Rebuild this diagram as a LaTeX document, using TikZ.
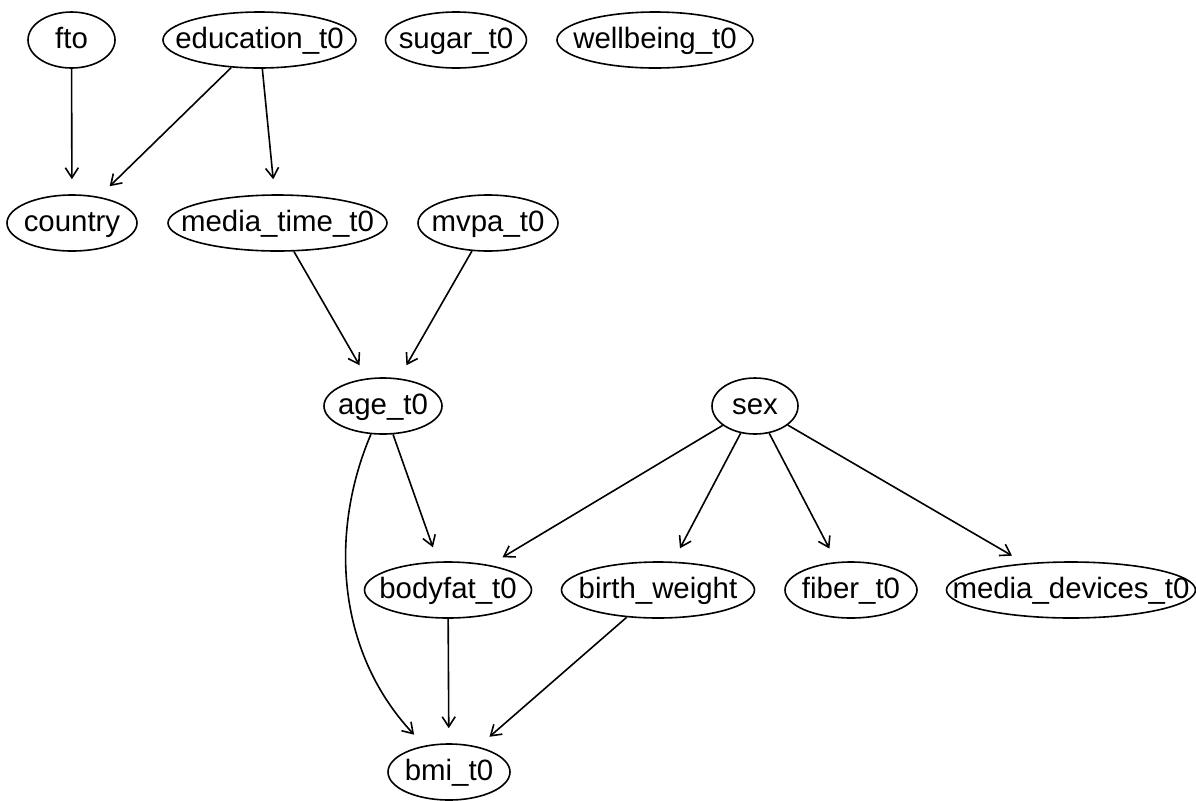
\documentclass[tikz,border=0pt]{standalone}
\usepackage{fontspec}
\setmainfont{Liberation Sans}
\usetikzlibrary{positioning,arrows.meta,shapes.geometric}
\newcommand{\vname}[1]{\makebox[0pt]{#1}}

\begin{document}
\begin{tikzpicture}[
      x=0.5pt,y=-0.5pt,
      >={Straight Barb[length=5pt,width=6.5pt]},
      var/.style={ellipse,draw=black,line width=0.8pt,inner sep=0pt,
        minimum height=28pt,minimum width=#1*0.5pt,
        text height=10.5pt,text depth=2pt,
        font=\fontsize{14.7}{17}\selectfont},
      flow/.style={draw=black,line width=0.8pt,->,shorten >=7.5pt}
    ]
    \useasboundingbox (0,0) rectangle (1196,800);
    \node[var=87] (FT) at (71.5,40) {\vname{fto}};
    \node[var=193] (ED) at (259.5,40) {\vname{education\_t0}};
    \node[var=141] (SU) at (456,40) {\vname{sugar\_t0}};
    \node[var=196] (WB) at (655,40) {\vname{wellbeing\_t0}};
    \node[var=130] (CO) at (72,223) {\vname{country}};
    \node[var=219] (MT) at (277.5,223) {\vname{media\_time\_t0}};
    \node[var=140] (MV) at (488,223) {\vname{mvpa\_t0}};
    \node[var=118] (AG) at (383,406) {\vname{age\_t0}};
    \node[var=86] (SX) at (755,406) {\vname{sex}};
    \node[var=167] (BF) at (448,590) {\vname{bodyfat\_t0}};
    \node[var=193] (BW) at (658,590) {\vname{birth\_weight}};
    \node[var=132] (FI) at (851,590) {\vname{fiber\_t0}};
    \node[var=249] (MD) at (1071,590) {\vname{media\_devices\_t0}};
    \node[var=122] (BM) at (449,772) {\vname{bmi\_t0}};
    \draw[flow] (FT) -- (CO);
    \draw[flow] (ED) -- (CO);
    \draw[flow] (ED) -- (MT);
    \draw[flow] (MT) -- (AG);
    \draw[flow] (MV) -- (AG);
    \draw[flow] (AG) -- (BF);
    \draw[flow] (AG) .. controls (330,530) and (335,650) .. (BM);
    \draw[flow] (SX) -- (BF);
    \draw[flow] (SX) -- (BW);
    \draw[flow] (SX) -- (FI);
    \draw[flow] (SX) -- (MD);
    \draw[flow] (BF) -- (BM);
    \draw[flow] (BW) -- (BM);
  \end{tikzpicture}
\end{document}
